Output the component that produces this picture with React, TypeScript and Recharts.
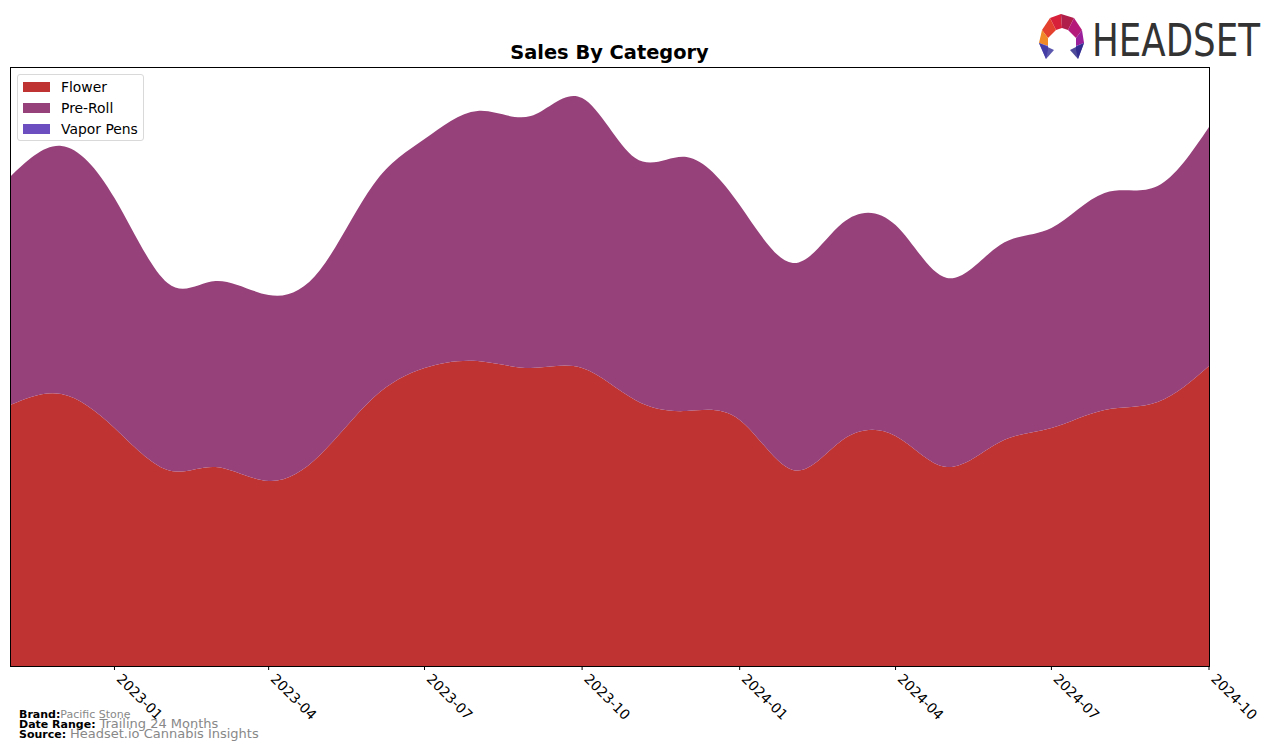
import React from "react";
import { Area, AreaChart, XAxis, YAxis } from "recharts";

const months = [
  "2022-11", "2022-12", "2023-01", "2023-02", "2023-03", "2023-04",
  "2023-05", "2023-06", "2023-07", "2023-08", "2023-09", "2023-10",
  "2023-11", "2023-12", "2024-01", "2024-02", "2024-03", "2024-04",
  "2024-05", "2024-06", "2024-07", "2024-08", "2024-09", "2024-10",
];
const flower = [261, 272, 238, 196, 199, 185, 211, 268, 298, 305, 298, 298, 266, 255, 246, 196, 226, 230, 199, 224, 238, 256, 264, 300];
const preRoll = [228, 248, 230, 187, 186, 186, 185, 213, 229, 250, 252, 270, 242, 254, 215, 207, 217, 211, 189, 197, 200, 217, 216, 239];
const vaporPens = [0, 0, 0, 0, 0, 0, 0, 0, 0, 0, 0, 0, 0, 0, 0, 0, 0, 0, 0, 0, 0, 0, 0, 0];
const tickLabels = ["2023-01", "2023-04", "2023-07", "2023-10", "2024-01", "2024-04", "2024-07", "2024-10"];

const toTs = (m: string) => {
  const [y, mo] = m.split("-").map(Number);
  return Date.UTC(y, mo - 1, 1);
};

const data = months.map((m, i) => ({
  t: toTs(m),
  flower: flower[i],
  preRoll: preRoll[i],
  vaporPens: vaporPens[i],
}));

const series = [
  { key: "flower", name: "Flower", color: "#c03333" },
  { key: "preRoll", name: "Pre-Roll", color: "#96417a" },
  { key: "vaporPens", name: "Vapor Pens", color: "#6c4ec0" },
];

const FONT = "'DejaVu Sans', sans-serif";

const RotatedTick = (props: any) => {
  const { x, y, payload } = props;
  const d = new Date(payload.value);
  const label = `${d.getUTCFullYear()}-${String(d.getUTCMonth() + 1).padStart(2, "0")}`;
  const ax = x + 4;
  const ay = y + 5;
  return (
    <text
      x={ax}
      y={ay}
      transform={`rotate(45, ${ax}, ${ay})`}
      fontSize={13.9}
      fontFamily={FONT}
      fill="#000"
      textAnchor="start"
      dominantBaseline="middle"
    >
      {label}
    </text>
  );
};

const LegendBox = () => (
  <div
    style={{
      position: "absolute",
      left: 17,
      top: 74,
      width: 127,
      height: 67,
      border: "1px solid #d9d9d9",
      borderRadius: 3,
      background: "rgba(255,255,255,0.85)",
      fontFamily: FONT,
      fontSize: 13.9,
      boxSizing: "border-box",
      paddingTop: 2,
    }}
  >
    {series.map((s) => (
      <div key={s.key} style={{ display: "flex", alignItems: "center", height: 20.8 }}>
        <span style={{ display: "inline-block", width: 27, height: 10, background: s.color, marginLeft: 5, marginRight: 11 }} />
        <span style={{ color: "#000" }}>{s.name}</span>
      </div>
    ))}
  </div>
);

const Logo = () => (
  <svg width={242} height={60} style={{ position: "absolute", left: 1034, top: 8 }}>
    <polygon points="16,10 27,6 28,20 22,22" fill="#d8203a" />
    <polygon points="27,6 40,10 34,22 28,20" fill="#b01e4a" />
    <polygon points="40,10 48,22 42,30 34,22" fill="#b51a7a" />
    <polygon points="16,10 22,22 14,30 8,22" fill="#e4412f" />
    <polygon points="8,22 14,30 14,38 5,35" fill="#f08a28" />
    <polygon points="48,22 50,35 42,38 42,30" fill="#9a1f9a" />
    <polygon points="5,35 14,38 14,42 12,51" fill="#5b4fc4" />
    <polygon points="50,35 42,38 42,42 44,51" fill="#4b3bb0" />
    <polygon points="5,35 12,51 20,42" fill="#3f3aa0" opacity={0.85} />
    <polygon points="50,35 44,51 36,42" fill="#2f2b8a" opacity={0.85} />
    <text
      x={58}
      y={48}
      fontFamily="'Liberation Sans Narrow', 'DejaVu Sans Condensed', sans-serif"
      fontSize={44}
      fill="#333"
      textLength={168}
      lengthAdjust="spacingAndGlyphs"
    >
      HEADSET
    </text>
  </svg>
);

const footerRows = [
  { label: "Brand:", value: "Pacific Stone", size: 11, top: 707 },
  { label: "Date Range: ", value: "Trailing 24 Months", size: 13, top: 716.5 },
  { label: "Source: ", value: "Headset.io Cannabis Insights", size: 13, top: 726.5 },
];

export default function App() {
  const ticks = tickLabels.map(toTs);
  return (
    <div style={{ position: "absolute", left: 0, top: 0, width: 1276, height: 748, background: "#fff", fontFamily: FONT }}>
      <div
        style={{
          position: "absolute",
          left: 0,
          width: 1219,
          top: 41,
          textAlign: "center",
          fontWeight: "bold",
          fontSize: 19.4,
          fontFamily: FONT,
          color: "#000",
        }}
      >
        Sales By Category
      </div>
      <AreaChart
        width={1276}
        height={748}
        data={data}
        margin={{ top: 67, right: 67, bottom: 0, left: 10 }}
      >
        <XAxis
          dataKey="t"
          type="number"
          scale="time"
          domain={[toTs("2022-11"), toTs("2024-10")]}
          ticks={ticks}
          height={82}
          tick={<RotatedTick />}
          tickLine={{ stroke: "#000" }}
          tickSize={4}
          axisLine={false}
          interval={0}
          allowDataOverflow
        />
        <YAxis hide domain={[0, 599]} allowDataOverflow />
        {series.map((s) => (
          <Area
            key={s.key}
            dataKey={s.key}
            name={s.name}
            stackId="1"
            type="natural"
            stroke="none"
            fill={s.color}
            fillOpacity={1}
            isAnimationActive={false}
          />
        ))}
      </AreaChart>
      <div
        style={{
          position: "absolute",
          left: 10,
          top: 67,
          width: 1200,
          height: 600,
          border: "1px solid #000",
          boxSizing: "border-box",
          pointerEvents: "none",
        }}
      />
      <LegendBox />
      <Logo />
      {footerRows.map((r) => (
        <div
          key={r.label}
          style={{
            position: "absolute",
            left: 19,
            top: r.top,
            height: 12,
            lineHeight: "12px",
            fontFamily: FONT,
            whiteSpace: "nowrap",
          }}
        >
          <span style={{ fontWeight: "bold", fontSize: 11, color: "#000" }}>{r.label}</span>
          <span style={{ color: "#888", fontSize: r.size }}>{r.value}</span>
        </div>
      ))}
    </div>
  );
}
